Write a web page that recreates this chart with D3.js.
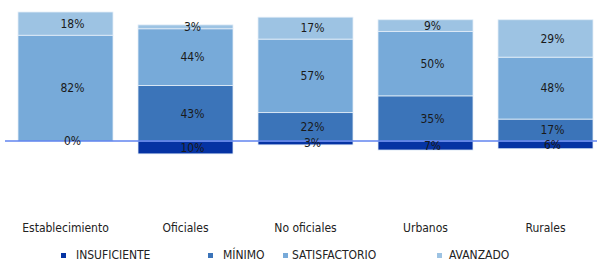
<!DOCTYPE html>
<html>
<head>
<meta charset="utf-8">
<script src="https://cdn.jsdelivr.net/npm/d3@7"></script>
<style>
  body { margin: 0; background: #fff; }
  text { font-family: "DejaVu Sans Condensed", "DejaVu Sans", sans-serif; }
</style>
</head>
<body>
<div id="app"></div>
<script>

// Data
const categories = ['Establecimiento', 'Oficiales', 'No oficiales', 'Urbanos', 'Rurales']
const levels = ['INSUFICIENTE', 'MÍNIMO', 'SATISFACTORIO', 'AVANZADO']
const insuficiente = [0, 10, 3, 7, 6]
const minimo = [0, 43, 22, 35, 17]
const satisfactorio = [82, 44, 57, 50, 48]
const avanzado = [18, 3, 17, 9, 29]

const colors = ['#0533a3', '#3b74b9', '#77aad9', '#9dc3e3']

const width = 597
const height = 259

const svg = d3.select('#app').append('svg')
  .attr('width', width)
  .attr('height', height)

const x = d3.scaleBand()
  .domain(categories)
  .range([6, 605])
  .paddingInner(25 / 120)
  .paddingOuter(0.1)

const y = d3.scaleLinear()
  .domain([-10, 100])
  .range([153.9, 12])

// build segments: insuficiente goes below zero, the rest stack up from zero
const segments = []
categories.forEach((c, i) => {
  segments.push({ cat: c, level: 0, y0: -insuficiente[i], y1: 0, value: insuficiente[i] })
  let acc = 0
  ;[minimo, satisfactorio, avanzado].forEach((arr, k) => {
    segments.push({ cat: c, level: k + 1, y0: acc, y1: acc + arr[i], value: arr[i] })
    acc += arr[i]
  })
})

svg.append('g')
  .selectAll('rect')
  .data(segments.filter(d => d.value > 0))
  .join('rect')
  .attr('x', d => x(d.cat))
  .attr('width', x.bandwidth())
  .attr('y', d => y(d.y1))
  .attr('height', d => y(d.y0) - y(d.y1))
  .attr('fill', d => colors[d.level])
  .attr('stroke', '#e4eef8')
  .attr('stroke-width', 0.8)

// zero line
svg.append('line')
  .attr('x1', 5)
  .attr('x2', width)
  .attr('y1', y(0))
  .attr('y2', y(0))
  .attr('stroke', '#4a72ec')
  .attr('stroke-opacity', 0.65)
  .attr('stroke-width', 2.2)

// value labels
svg.append('g')
  .selectAll('text')
  .data(segments.filter(d => d.level === 0 || d.value > 0))
  .join('text')
  .attr('x', d => x(d.cat) + x.bandwidth() / 2 + 7)
  .attr('y', d => (y(d.y0) + y(d.y1)) / 2)
  .attr('dy', '0.36em')
  .attr('text-anchor', 'middle')
  .attr('font-size', 12)
  .attr('fill', '#1a1a1a')
  .text(d => d.value + '%')

// category labels
svg.append('g')
  .selectAll('text')
  .data(categories)
  .join('text')
  .attr('x', d => x(d) + x.bandwidth() / 2)
  .attr('y', 232)
  .attr('text-anchor', 'middle')
  .attr('font-size', 12)
  .attr('fill', '#222')
  .text(d => d)

// legend
const legendX = [61, 208, 283, 437]
const legendTextDx = [15, 15, 9, 12]
const legend = svg.append('g')
  .selectAll('g')
  .data(levels)
  .join('g')
  .attr('transform', (d, i) => `translate(${legendX[i]}, 253)`)

legend.append('rect')
  .attr('width', 5)
  .attr('height', 5)
  .attr('fill', (d, i) => colors[i])

legend.append('text')
  .attr('x', (d, i) => legendTextDx[i])
  .attr('y', 5.8)
  .attr('font-size', 12)
  .attr('fill', '#222')
  .text(d => d)

</script>
</body>
</html>
